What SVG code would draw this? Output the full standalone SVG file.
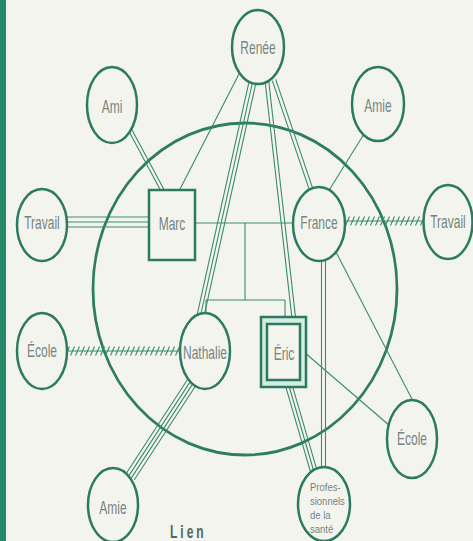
<svg xmlns="http://www.w3.org/2000/svg" width="473" height="541" viewBox="0 0 473 541">
<style>
.node{fill:#f4f4ef;stroke:#2c7a60;stroke-width:2.5}
.ln{stroke:#3a8a6e;stroke-width:1.1;fill:none}
.lbl{font-family:"Liberation Sans",Arial,sans-serif;font-size:12px;fill:#77857e;text-anchor:middle}
.sm{font-family:"Liberation Sans",Arial,sans-serif;font-size:9.5px;fill:#77857e}
</style>
<defs>
<pattern id="hatch" patternUnits="userSpaceOnUse" x="0" y="216" width="5" height="10">
<path d="M0.5,9.5 L4.5,0.5" stroke="#3a8a6e" stroke-width="1.1"/>
</pattern>
</defs>
<rect x="0" y="0" width="473" height="541" fill="#f4f4ef"/>
<rect x="0" y="0" width="6" height="541" fill="#23896a"/>
<ellipse id="famille" cx="245" cy="289" rx="152" ry="166" fill="none" stroke="#2e7d62" stroke-width="2.8"/>
<g id="connectors" class="ln">
<!-- Ami - Marc double -->
<line x1="126.5" y1="126.8" x2="163.5" y2="195.8"/>
<line x1="129.5" y1="125.2" x2="166.5" y2="194.2"/>
<!-- Renee - Marc -->
<line x1="240" y1="72" x2="177" y2="195"/>
<!-- Renee - Nathalie triple -->
<line x1="249.6" y1="79.2" x2="196.6" y2="317.2"/>
<line x1="253" y1="80" x2="200" y2="318"/>
<line x1="256.4" y1="80.8" x2="203.4" y2="318.8"/>
<!-- Renee - Eric double -->
<line x1="265.2" y1="82.2" x2="292.2" y2="320.2"/>
<line x1="268.8" y1="81.8" x2="295.8" y2="319.8"/>
<!-- Renee - France double -->
<line x1="272.3" y1="80.6" x2="310.3" y2="192.6"/>
<line x1="275.7" y1="79.4" x2="313.7" y2="191.4"/>
<!-- Amie - France -->
<line x1="364" y1="134" x2="328" y2="192"/>
<!-- Travail - Marc triple -->
<line x1="62" y1="217" x2="152" y2="217"/>
<line x1="62" y1="222" x2="152" y2="222"/>
<line x1="62" y1="227" x2="152" y2="227"/>
<!-- Marc - France -->
<line x1="192" y1="223" x2="296" y2="223"/>
<!-- filiation -->
<line x1="245" y1="223" x2="245" y2="300"/>
<line x1="206" y1="300" x2="285" y2="300"/>
<line x1="206" y1="300" x2="206" y2="315"/>
<line x1="285" y1="300" x2="285" y2="319"/>
<!-- France - Travail hatched -->
<line x1="343" y1="221" x2="425" y2="221"/>
<rect x="345" y="216" width="78" height="10" fill="url(#hatch)" stroke="none"/>
<!-- Ecole - Nathalie hatched -->
<line x1="65" y1="351" x2="183" y2="351"/>
<rect x="68" y="346" width="112" height="10" fill="url(#hatch)" stroke="none"/>
<!-- France - Professionnels double -->
<line x1="321.5" y1="258" x2="321.5" y2="470"/>
<line x1="325.5" y1="258" x2="325.5" y2="470"/>
<!-- Eric - Professionnels triple -->
<line x1="285.8" y1="386.9" x2="310.8" y2="472.9"/>
<line x1="289" y1="386" x2="314" y2="472"/>
<line x1="292.2" y1="385.1" x2="317.2" y2="471.1"/>
<!-- France - Ecole -->
<line x1="336" y1="252" x2="414" y2="403"/>
<!-- Eric - Ecole -->
<line x1="304" y1="352" x2="390" y2="426"/>
<!-- Nathalie - Amie quadruple -->
<line x1="187.7" y1="379.2" x2="125.7" y2="474.2"/>
<line x1="190.6" y1="381.1" x2="128.6" y2="476.1"/>
<line x1="193.4" y1="382.9" x2="131.4" y2="477.9"/>
<line x1="196.3" y1="384.8" x2="134.3" y2="479.8"/>
</g>
<g id="renee"><ellipse class="node" cx="258" cy="47" rx="26" ry="37"/><text class="lbl" transform="translate(258,47) scale(1,1.55)" y="4.3">Renée</text></g>
<g id="ami"><ellipse class="node" cx="112" cy="105" rx="25" ry="38"/><text class="lbl" transform="translate(112,106) scale(1,1.55)" y="4.3">Ami</text></g>
<g id="amie-haut"><ellipse class="node" cx="378" cy="104" rx="26" ry="37"/><text class="lbl" transform="translate(378,105) scale(1,1.55)" y="4.3">Amie</text></g>
<g id="travail-g"><ellipse class="node" cx="42" cy="225" rx="25" ry="36"/><text class="lbl" transform="translate(42,222) scale(1,1.55)" y="4.3">Travail</text></g>
<g id="marc"><rect class="node" x="149" y="190" width="46" height="70"/><text class="lbl" transform="translate(172,223) scale(1,1.55)" y="4.3">Marc</text></g>
<g id="france"><ellipse class="node" cx="319" cy="224" rx="26" ry="37"/><text class="lbl" transform="translate(319,222) scale(1,1.55)" y="4.3">France</text></g>
<g id="travail-d"><ellipse class="node" cx="448" cy="222" rx="24.5" ry="37"/><text class="lbl" transform="translate(448,221) scale(1,1.55)" y="4.3">Travail</text></g>
<g id="ecole-g"><ellipse class="node" cx="42" cy="351" rx="25" ry="38"/><text class="lbl" transform="translate(42,350) scale(1,1.55)" y="4.3">École</text></g>
<g id="nathalie"><ellipse class="node" cx="205" cy="351" rx="25" ry="38"/><text class="lbl" transform="translate(205,352) scale(1,1.55)" y="4.3" textLength="44" lengthAdjust="spacingAndGlyphs">Nathalie</text></g>
<g id="eric"><rect x="261" y="317" width="45" height="70" fill="#d5ede3" stroke="#2c7a60" stroke-width="2.5"/><rect class="node" x="267" y="324" width="33" height="56"/><text class="lbl" transform="translate(284,353) scale(1,1.55)" y="4.3">Éric</text></g>
<g id="ecole-d"><ellipse class="node" cx="412" cy="439" rx="25" ry="39"/><text class="lbl" transform="translate(412,438) scale(1,1.55)" y="4.3">École</text></g>
<g id="amie-bas"><ellipse class="node" cx="113" cy="505" rx="25" ry="37"/><text class="lbl" transform="translate(113,507) scale(1,1.55)" y="4.3">Amie</text></g>
<g id="professionnels"><ellipse class="node" cx="324" cy="504" rx="26" ry="37"/>
<text class="sm" transform="translate(310,491) scale(1,1.22)" x="0" y="0">Profes-</text>
<text class="sm" transform="translate(310,505) scale(1,1.22)" x="0" y="0">sionnels</text>
<text class="sm" transform="translate(310,519) scale(1,1.22)" x="0" y="0">de la</text>
<text class="sm" transform="translate(310,533) scale(1,1.22)" x="0" y="0">santé</text>
</g>
<text transform="translate(170,538) scale(1,1.5)" font-family="Liberation Sans,Arial,sans-serif" font-size="12" font-weight="bold" letter-spacing="3" fill="#4e6a5f">Lien</text>
</svg>
